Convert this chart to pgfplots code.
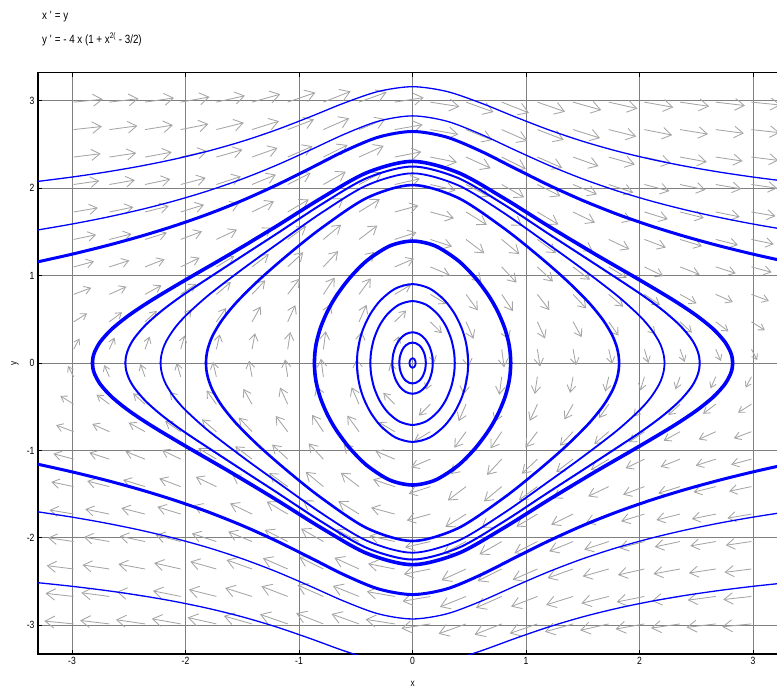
\documentclass[border=0pt]{standalone}
\usepackage{fontspec}
\setmainfont{Liberation Sans}[FakeStretch=0.82]
\usepackage{pgfplots}
\usepackage{pgfplotstable}
\pgfplotsset{compat=1.18}
\usetikzlibrary{arrows.meta}
\definecolor{arrowgray}{RGB}{165,165,165}
\definecolor{gridgray}{RGB}{128,128,128}
\definecolor{trajblue}{RGB}{0,0,255}

% direction field, quadrant x>0, y>0 (magnitudes of arrow components)
\pgfplotstableread{
x y U V
0.1571 0.1571 0.0386 0.1491
0.1571 0.4714 0.1012 0.1301
0.1571 0.7857 0.1422 0.1096
0.1571 1.1000 0.1701 0.0937
0.1571 1.4143 0.1910 0.0818
0.1571 1.7286 0.2078 0.0729
0.1571 2.0429 0.2221 0.0659
0.1571 2.3571 0.2345 0.0603
0.1571 2.6714 0.2456 0.0557
0.1571 2.9857 0.2557 0.0519
0.4714 0.1571 0.0225 0.2003
0.4714 0.4714 0.0655 0.1940
0.4714 0.7857 0.1033 0.1835
0.4714 1.1000 0.1350 0.1712
0.4714 1.4143 0.1611 0.1589
0.4714 1.7286 0.1827 0.1475
0.4714 2.0429 0.2010 0.1373
0.4714 2.3571 0.2167 0.1283
0.4714 2.6714 0.2305 0.1204
0.4714 2.9857 0.2427 0.1134
0.7857 0.1571 0.0212 0.2066
0.7857 0.4714 0.0620 0.2011
0.7857 0.7857 0.0986 0.1917
0.7857 1.1000 0.1299 0.1804
0.7857 1.4143 0.1561 0.1687
0.7857 1.7286 0.1782 0.1575
0.7857 2.0429 0.1970 0.1473
0.7857 2.3571 0.2131 0.1382
0.7857 2.6714 0.2273 0.1300
0.7857 2.9857 0.2398 0.1228
1.1000 0.1571 0.0232 0.1975
1.1000 0.4714 0.0672 0.1908
1.1000 0.7857 0.1055 0.1798
1.1000 1.1000 0.1372 0.1671
1.1000 1.4143 0.1632 0.1546
1.1000 1.7286 0.1847 0.1431
1.1000 2.0429 0.2027 0.1329
1.1000 2.3571 0.2182 0.1240
1.1000 2.6714 0.2318 0.1162
1.1000 2.9857 0.2438 0.1094
1.4143 0.1571 0.0265 0.1839
1.4143 0.4714 0.0757 0.1749
1.4143 0.7857 0.1162 0.1610
1.4143 1.1000 0.1480 0.1465
1.4143 1.4143 0.1730 0.1332
1.4143 1.7286 0.1933 0.1217
1.4143 2.0429 0.2101 0.1120
1.4143 2.3571 0.2246 0.1037
1.4143 2.6714 0.2373 0.0967
1.4143 2.9857 0.2486 0.0906
1.7286 0.1571 0.0307 0.1699
1.7286 0.4714 0.0855 0.1576
1.7286 0.7857 0.1273 0.1407
1.7286 1.1000 0.1581 0.1248
1.7286 1.4143 0.1816 0.1115
1.7286 1.7286 0.2004 0.1007
1.7286 2.0429 0.2161 0.0918
1.7286 2.3571 0.2296 0.0846
1.7286 2.6714 0.2415 0.0785
1.7286 2.9857 0.2523 0.0734
2.0429 0.1571 0.0355 0.1568
2.0429 0.4714 0.0954 0.1405
2.0429 0.7857 0.1370 0.1211
2.0429 1.1000 0.1662 0.1049
2.0429 1.4143 0.1880 0.0923
2.0429 1.7286 0.2055 0.0826
2.0429 2.0429 0.2202 0.0749
2.0429 2.3571 0.2330 0.0687
2.0429 2.6714 0.2444 0.0635
2.0429 2.9857 0.2547 0.0592
2.3571 0.1571 0.0405 0.1448
2.3571 0.4714 0.1043 0.1243
2.3571 0.7857 0.1447 0.1035
2.3571 1.1000 0.1720 0.0878
2.3571 1.4143 0.1924 0.0764
2.3571 1.7286 0.2089 0.0679
2.3571 2.0429 0.2229 0.0613
2.3571 2.3571 0.2352 0.0560
2.3571 2.6714 0.2462 0.0518
2.3571 2.9857 0.2562 0.0482
2.6714 0.1571 0.0457 0.1340
2.6714 0.4714 0.1121 0.1094
2.6714 0.7857 0.1505 0.0882
2.6714 1.1000 0.1761 0.0737
2.6714 1.4143 0.1954 0.0636
2.6714 1.7286 0.2112 0.0562
2.6714 2.0429 0.2247 0.0506
2.6714 2.3571 0.2366 0.0462
2.6714 2.6714 0.2473 0.0426
2.6714 2.9857 0.2572 0.0397
2.9857 0.1571 0.0509 0.1241
2.9857 0.4714 0.1183 0.0961
2.9857 0.7857 0.1547 0.0753
2.9857 1.1000 0.1789 0.0622
2.9857 1.4143 0.1973 0.0534
2.9857 1.7286 0.2126 0.0471
2.9857 2.0429 0.2258 0.0423
2.9857 2.3571 0.2375 0.0385
2.9857 2.6714 0.2481 0.0355
2.9857 2.9857 0.2578 0.0330
}\fieldtable

% closed orbits, upper halves
\pgfplotstableread{
x y
-2.82 0
-2.816 0.060
-2.8 0.130
-2.75 0.245
-2.65 0.388
-2.5 0.545
-2.3 0.718
-2.0 0.951
-1.6 1.252
-1.2 1.565
-0.8 1.890
-0.4 2.180
0 2.308
0.4 2.180
0.8 1.890
1.2 1.565
1.6 1.252
2.0 0.951
2.3 0.718
2.5 0.545
2.65 0.388
2.75 0.245
2.8 0.130
2.816 0.060
2.82 0
}\orbA
\pgfplotstableread{
x y
-2.53 0
-2.524 0.080
-2.5 0.175
-2.45 0.287
-2.35 0.438
-2.2 0.608
-2.0 0.798
-1.6 1.140
-1.2 1.477
-0.8 1.818
-0.4 2.118
0 2.249
0.4 2.118
0.8 1.818
1.2 1.477
1.6 1.140
2.0 0.798
2.2 0.608
2.35 0.438
2.45 0.287
2.5 0.175
2.524 0.080
2.53 0
}\orbB
\pgfplotstableread{
x y
-2.22 0
-2.216 0.070
-2.2 0.157
-2.17 0.250
-2.1 0.392
-2.0 0.540
-1.8 0.774
-1.5 1.073
-1.2 1.355
-0.8 1.721
-0.4 2.035
0 2.171
0.4 2.035
0.8 1.721
1.2 1.355
1.5 1.073
1.8 0.774
2.0 0.540
2.1 0.392
2.17 0.250
2.2 0.157
2.216 0.070
2.22 0
}\orbC
\pgfplotstableread{
x y
-1.82 0
-1.816 0.080
-1.8 0.181
-1.76 0.316
-1.68 0.489
-1.55 0.696
-1.35 0.954
-1.1 1.237
-0.8 1.547
-0.4 1.891
0 2.037
0.4 1.891
0.8 1.547
1.1 1.237
1.35 0.954
1.55 0.696
1.68 0.489
1.76 0.316
1.8 0.181
1.816 0.080
1.82 0
}\orbD
\pgfplotstableread{
x y
-0.865 0
-0.860 0.120
-0.845 0.245
-0.81 0.407
-0.75 0.591
-0.67 0.772
-0.55 0.979
-0.4 1.174
-0.2 1.340
0 1.396
0.2 1.340
0.4 1.174
0.55 0.979
0.67 0.772
0.75 0.591
0.81 0.407
0.845 0.245
0.860 0.120
0.865 0
}\orbE
\pgfplotstableread{
x y
-0.49 0
-0.485 0.120
-0.465 0.265
-0.43 0.407
-0.37 0.565
-0.28 0.721
-0.15 0.853
0 0.903
0.15 0.853
0.28 0.721
0.37 0.565
0.43 0.407
0.465 0.265
0.485 0.120
0.49 0
}\orbF
\pgfplotstableread{
x y
-0.372 0
-0.366 0.120
-0.34 0.276
-0.29 0.431
-0.22 0.561
-0.12 0.667
0 0.709
0.12 0.667
0.22 0.561
0.29 0.431
0.34 0.276
0.366 0.120
0.372 0
}\orbG
\pgfplotstableread{
x y
-0.178 0
-0.176 0.050
-0.17 0.103
-0.15 0.188
-0.11 0.275
-0.06 0.331
0 0.352
0.06 0.331
0.11 0.275
0.15 0.188
0.17 0.103
0.176 0.050
0.178 0
}\orbH
\pgfplotstableread{
x y
-0.117 0
-0.113 0.061
-0.101 0.117
-0.083 0.166
-0.059 0.203
-0.030 0.226
0 0.234
0.030 0.226
0.059 0.203
0.083 0.166
0.101 0.117
0.113 0.061
0.117 0
}\orbI
\pgfplotstableread{
x y
-0.027 0
-0.025 0.021
-0.019 0.038
-0.010 0.050
0 0.054
0.010 0.050
0.019 0.038
0.025 0.021
0.027 0
}\orbJ

% trajectories crossing the window
\pgfplotstableread{
x A Am B C D E
-3.3 1.1585 -1.1585 2.0785 1.5232 -1.7030 -2.5140
-3.0 1.2457 -1.2457 2.1283 1.5906 -1.7635 -2.5554
-2.7 1.3418 -1.3418 2.1860 1.6669 -1.8326 -2.6036
-2.4 1.4488 -1.4488 2.2532 1.7541 -1.9123 -2.6602
-2.1 1.5689 -1.5689 2.3323 1.8546 -2.0049 -2.7275
-1.8 1.7050 -1.7050 2.4259 1.9711 -2.1131 -2.8081
-1.5 1.8600 -1.8600 2.5372 2.1066 -2.2400 -2.9048
-1.2 2.0356 -2.0356 2.6686 2.2631 -2.3878 -3.0202
-0.9 2.2290 -2.2290 2.8189 2.4385 -2.5547 -3.1538
-0.6 2.4253 -2.4253 2.9765 2.6191 -2.7276 -3.2954
-0.3 2.5855 -2.5855 3.1085 2.7681 -2.8710 -3.4150
0 2.6499 -2.6499 3.1623 2.8284 -2.9292 -3.4641
0.3 2.5855 -2.5855 3.1085 2.7681 -2.8710 -3.4150
0.6 2.4253 -2.4253 2.9765 2.6191 -2.7276 -3.2954
0.9 2.2290 -2.2290 2.8189 2.4385 -2.5547 -3.1538
1.2 2.0356 -2.0356 2.6686 2.2631 -2.3878 -3.0202
1.5 1.8600 -1.8600 2.5372 2.1066 -2.2400 -2.9048
1.8 1.7050 -1.7050 2.4259 1.9711 -2.1131 -2.8081
2.1 1.5689 -1.5689 2.3323 1.8546 -2.0049 -2.7275
2.4 1.4488 -1.4488 2.2532 1.7541 -1.9123 -2.6602
2.7 1.3418 -1.3418 2.1860 1.6669 -1.8326 -2.6036
3.0 1.2457 -1.2457 2.1283 1.5906 -1.7635 -2.5554
3.3 1.1585 -1.1585 2.0785 1.5232 -1.7030 -2.5140
}\opentable

\pgfplotsset{
  fieldarrows/.style={arrowgray, line width=0.85bp,
    point meta={sqrt(\thisrow{U}^2+\thisrow{V}^2)}},
  fieldquiver/.style 2 args={quiver={u=#1, v=#2,
    every arrow/.append code={%
      \pgfmathsetmacro\hl{5+4.5*\pgfplotspointmetatransformed/1000}%
      \pgfmathsetmacro\hw{1.3*\hl}},
    every arrow/.append style={-{Straight Barb[length=\hl bp,width=\hw bp]}}}},
  traj/.style={trajblue, smooth, line cap=round, line join=round},
}

\begin{document}
\begin{tikzpicture}
\useasboundingbox (-38bp,-36bp) rectangle (739bp,654bp);
\begin{axis}[
  at={(0,0)}, anchor=south west,
  x=113.5bp, y=87.38bp,
  xmin=-3.3, xmax=3.3, ymin=-3.33, ymax=3.32,
  enlargelimits=false,
  xtick={-3,-2,-1,0,1,2,3}, ytick={-3,-2,-1,0,1,2,3},
  xticklabels={-3,-2,-1,0,1,2,3}, yticklabels={-3,-2,-1,0,1,2,3},
  grid=major, major grid style={gridgray, line width=0.8bp},
  tick align=inside, major tick length=4bp,
  tick style={black, line width=0.8bp},
  axis line style={black, line width=1.1bp},
  tick label style={font=\fontsize{10.5}{12}\selectfont},
  label style={font=\fontsize{10}{12}\selectfont},
  xlabel={x}, ylabel={y},
  xlabel style={at={(axis description cs:0.5,-0.0516)}, anchor=center},
  ylabel style={at={(axis description cs:-0.0307,0.5)}, anchor=center},
]
% direction field (four quadrants of the same table)
\addplot[fieldarrows, fieldquiver={\thisrow{U}}{-\thisrow{V}}] table[x=x, y=y] {\fieldtable};
\addplot[fieldarrows, fieldquiver={\thisrow{U}}{\thisrow{V}}] table[x expr=-\thisrow{x}, y=y] {\fieldtable};
\addplot[fieldarrows, fieldquiver={-\thisrow{U}}{-\thisrow{V}}] table[x=x, y expr=-\thisrow{y}] {\fieldtable};
\addplot[fieldarrows, fieldquiver={-\thisrow{U}}{\thisrow{V}}] table[x expr=-\thisrow{x}, y expr=-\thisrow{y}] {\fieldtable};

% trajectories across the window
\addplot[traj, line width=3bp] table[x=x, y=A] {\opentable};
\addplot[traj, line width=3bp] table[x=x, y=Am] {\opentable};
\addplot[traj, line width=1.3bp] table[x=x, y=B] {\opentable};
\addplot[traj, line width=1.3bp] table[x=x, y=C] {\opentable};
\addplot[traj, line width=1.3bp] table[x=x, y=D] {\opentable};
\addplot[traj, line width=1.3bp] table[x=x, y=E] {\opentable};

% closed orbits
\addplot[traj, line width=3.6bp] table {\orbA};
\addplot[traj, line width=3.6bp] table[y expr=-\thisrow{y}] {\orbA};
\addplot[traj, line width=2bp] table {\orbB};
\addplot[traj, line width=2bp] table[y expr=-\thisrow{y}] {\orbB};
\addplot[traj, line width=1.8bp] table {\orbC};
\addplot[traj, line width=1.8bp] table[y expr=-\thisrow{y}] {\orbC};
\addplot[traj, line width=2.6bp] table {\orbD};
\addplot[traj, line width=2.6bp] table[y expr=-\thisrow{y}] {\orbD};
\addplot[traj, line width=3.6bp] table {\orbE};
\addplot[traj, line width=3.6bp] table[y expr=-\thisrow{y}] {\orbE};
\addplot[traj, line width=2bp] table {\orbF};
\addplot[traj, line width=2bp] table[y expr=-\thisrow{y}] {\orbF};
\addplot[traj, line width=2bp] table {\orbG};
\addplot[traj, line width=2bp] table[y expr=-\thisrow{y}] {\orbG};
\addplot[traj, line width=2bp] table {\orbH};
\addplot[traj, line width=2bp] table[y expr=-\thisrow{y}] {\orbH};
\addplot[traj, line width=2bp] table {\orbI};
\addplot[traj, line width=2bp] table[y expr=-\thisrow{y}] {\orbI};
\addplot[traj, line width=1.8bp] table {\orbJ};
\addplot[traj, line width=1.8bp] table[y expr=-\thisrow{y}] {\orbJ};
\end{axis}
\node[anchor=base west, inner sep=0pt, font=\fontsize{12}{14}\selectfont] at (4bp,634.7bp) {x \textquotesingle{} = y};
\node[anchor=base west, inner sep=0pt, font=\fontsize{12}{14}\selectfont] at (4bp,610.7bp) {y \textquotesingle{} = - 4 x (1 + x\textsuperscript{2(} - 3/2)};
\end{tikzpicture}
\end{document}
